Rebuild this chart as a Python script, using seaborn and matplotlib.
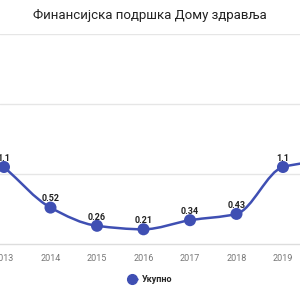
import numpy as np
import matplotlib
matplotlib.use("Agg")
import matplotlib.pyplot as plt
from matplotlib.path import Path
from matplotlib.patches import PathPatch
from matplotlib.lines import Line2D
import seaborn as sns

# data
years = [2013, 2014, 2015, 2016, 2017, 2018, 2019, 2020]
values = [1.1, 0.52, 0.26, 0.21, 0.34, 0.43, 1.1, 1.2]
labels = ["1.1", "0.52", "0.26", "0.21", "0.34", "0.43", "1.1", "1.2"]
title = "Финансијска подршка Дому здравља"
series_name = "Укупно"

blue = "#3F4FB3"

sns.set_theme(style="white")
plt.rcParams["font.family"] = ["Roboto", "DejaVu Sans"]

fig = plt.figure(figsize=(3, 3), dpi=100)
ax = fig.add_axes([0, 56 / 300, 1, 210 / 300])

# smooth (monotone cubic) line through the points, as bezier segments
x = np.array(years, dtype=float)
y = np.array(values, dtype=float)
h = np.diff(x)
d = np.diff(y) / h
m = np.zeros_like(y)
m[0], m[-1] = d[0], d[-1]
for i in range(1, len(y) - 1):
    if d[i - 1] * d[i] <= 0:
        m[i] = 0
    else:
        m[i] = 2 / (1 / d[i - 1] + 1 / d[i])
verts = [(x[0], y[0])]
codes = [Path.MOVETO]
for i in range(len(x) - 1):
    verts += [(x[i] + h[i] / 3, y[i] + m[i] * h[i] / 3),
              (x[i + 1] - h[i] / 3, y[i + 1] - m[i + 1] * h[i] / 3),
              (x[i + 1], y[i + 1])]
    codes += [Path.CURVE4] * 3
ax.add_patch(PathPatch(Path(verts, codes), facecolor="none", edgecolor=blue, lw=1.8, zorder=3))

sns.scatterplot(x=years, y=values, color=blue, s=75, edgecolor="none", zorder=4, ax=ax, legend=False)

for xv, yv, t in zip(years, values, labels):
    ax.annotate(t, (xv, yv), xytext=(0, 3), textcoords="offset points",
                ha="center", va="bottom", fontsize=6.5, fontweight="bold", color="#222222",
                annotation_clip=True)

ax.set_xticks(years)
ax.set_yticks([1, 2, 3])
ax.set_yticklabels([])
ax.set_xlim(2012.914, 2019.366)
ax.set_ylim(0, 3)
ax.tick_params(axis="x", length=0, pad=7, labelsize=6.5, labelcolor="#777777")
ax.tick_params(axis="y", length=0)
ax.grid(axis="y", color="#e6e6e6", lw=1)
ax.grid(axis="x", visible=False)
for side in ["top", "left", "right"]:
    ax.spines[side].set_visible(False)
ax.spines["bottom"].set_color("#dddddd")
ax.spines["bottom"].set_linewidth(1)

fig.text(0.5, 1 - 15 / 300, title, ha="center", va="center", fontsize=9.5, color="#222222")

handle = Line2D([], [], color=blue, marker="o", markersize=7, lw=1.8)
fig.legend([handle], [series_name], loc="center", bbox_to_anchor=(0.5, 20 / 300),
           frameon=False, handlelength=1.0, handletextpad=0.5,
           prop={"size": 6.5, "weight": "bold"})

fig.savefig("out.png", dpi=100)
